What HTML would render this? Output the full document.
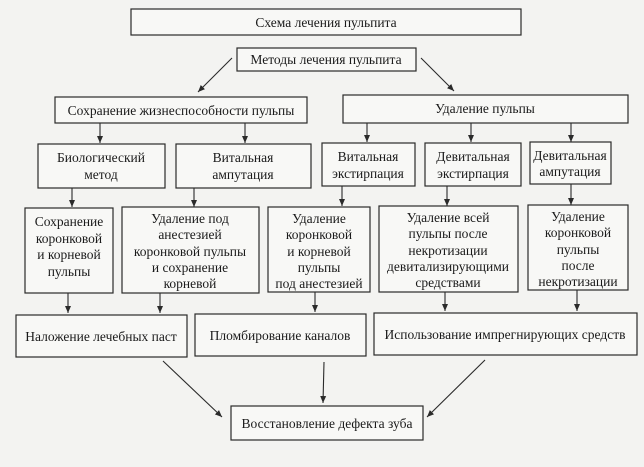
<!DOCTYPE html>
<html><head><meta charset="utf-8"><style>
html,body{margin:0;padding:0;background:#f3f3f1}
svg{display:block}
text{font-family:"Liberation Serif",serif;font-size:13.5px;fill:#1a1a1a}
rect{fill:#f8f8f6;stroke:#2a2a2a;stroke-width:1.2}
line{stroke:#2a2a2a;stroke-width:1.1}
</style></head><body>
<svg width="644" height="467" viewBox="0 0 644 467" xmlns="http://www.w3.org/2000/svg">
<defs><marker id="a" markerWidth="8" markerHeight="8" refX="7" refY="4" orient="auto" markerUnits="userSpaceOnUse"><path d="M0,1 L7,4 L0,7 Z" fill="#2a2a2a"/></marker></defs>
<rect x="131" y="9" width="390" height="26"/>
<text x="326" y="27" text-anchor="middle">Схема лечения пульпита</text>
<rect x="237" y="48" width="179" height="23"/>
<text x="326" y="64" text-anchor="middle">Методы лечения пульпита</text>
<line x1="232" y1="58" x2="198" y2="92" marker-end="url(#a)"/>
<line x1="421" y1="58" x2="454" y2="91" marker-end="url(#a)"/>
<rect x="55" y="97" width="252" height="26"/>
<text x="181" y="115" text-anchor="middle">Сохранение жизнеспособности пульпы</text>
<rect x="343" y="95" width="285" height="28"/>
<text x="485" y="113" text-anchor="middle">Удаление  пульпы</text>
<g marker-end="url(#a)">
<line x1="100" y1="123" x2="100" y2="143"/><line x1="245" y1="123" x2="245" y2="143"/>
<line x1="367" y1="123" x2="367" y2="142"/><line x1="471" y1="123" x2="471" y2="142"/><line x1="571" y1="123" x2="571" y2="142"/>
</g>
<rect x="38" y="144" width="127" height="44"/>
<text x="101" y="162" text-anchor="middle">Биологический</text><text x="101" y="179" text-anchor="middle">метод</text>
<rect x="176" y="144" width="135" height="44"/>
<text x="243" y="162" text-anchor="middle">Витальная</text><text x="243" y="179" text-anchor="middle">ампутация</text>
<rect x="322" y="143" width="93" height="43"/>
<text x="368" y="161" text-anchor="middle">Витальная</text><text x="368" y="178" text-anchor="middle">экстирпация</text>
<rect x="425" y="143" width="96" height="43"/>
<text x="473" y="161" text-anchor="middle">Девитальная</text><text x="473" y="178" text-anchor="middle">экстирпация</text>
<rect x="530" y="142" width="81" height="42"/>
<text x="570" y="160" text-anchor="middle">Девитальная</text><text x="570" y="176" text-anchor="middle">ампутация</text>
<g marker-end="url(#a)">
<line x1="72" y1="188" x2="72" y2="207"/><line x1="194" y1="188" x2="194" y2="207"/>
<line x1="342" y1="186" x2="342" y2="206"/><line x1="447" y1="186" x2="447" y2="206"/><line x1="571" y1="184" x2="571" y2="205"/>
</g>
<rect x="25" y="208" width="88" height="85"/>
<g text-anchor="middle"><text x="69" y="226">Сохранение</text><text x="69" y="243">коронковой</text><text x="69" y="259">и корневой</text><text x="69" y="276">пульпы</text></g>
<rect x="122" y="207" width="137" height="86"/>
<g text-anchor="middle"><text x="190" y="223">Удаление  под</text><text x="190" y="239">анестезией</text><text x="190" y="256">коронковой  пульпы</text><text x="190" y="272">и   сохранение</text><text x="190" y="288">корневой</text></g>
<rect x="268" y="207" width="102" height="85"/>
<g text-anchor="middle"><text x="319" y="223">Удаление</text><text x="319" y="239">коронковой</text><text x="319" y="256">и  корневой</text><text x="319" y="272">пульпы</text><text x="319" y="288">под анестезией</text></g>
<rect x="379" y="206" width="139" height="86"/>
<g text-anchor="middle"><text x="448" y="222">Удаление всей</text><text x="448" y="238">пульпы после</text><text x="448" y="255">некротизации</text><text x="448" y="271">девитализирующими</text><text x="448" y="287">средствами</text></g>
<rect x="528" y="205" width="100" height="85"/>
<g text-anchor="middle"><text x="578" y="221">Удаление</text><text x="578" y="237">коронковой</text><text x="578" y="254">пульпы</text><text x="578" y="270">после</text><text x="578" y="286">некротизации</text></g>
<g marker-end="url(#a)">
<line x1="68" y1="293" x2="68" y2="313"/><line x1="160" y1="293" x2="160" y2="313"/>
<line x1="315" y1="292" x2="315" y2="312"/><line x1="445" y1="292" x2="445" y2="311"/><line x1="577" y1="290" x2="577" y2="311"/>
</g>
<rect x="16" y="315" width="171" height="42"/>
<text x="101" y="341" text-anchor="middle">Наложение  лечебных паст</text>
<rect x="195" y="314" width="171" height="42"/>
<text x="280" y="340" text-anchor="middle">Пломбирование  каналов</text>
<rect x="374" y="313" width="263" height="42"/>
<text x="505" y="339" text-anchor="middle">Использование импрегнирующих  средств</text>
<g marker-end="url(#a)">
<line x1="163" y1="361" x2="222" y2="417"/><line x1="324" y1="362" x2="323" y2="403"/><line x1="485" y1="360" x2="427" y2="417"/>
</g>
<rect x="231" y="406" width="192" height="34"/>
<text x="327" y="428" text-anchor="middle">Восстановление дефекта зуба</text>
</svg>
</body></html>
